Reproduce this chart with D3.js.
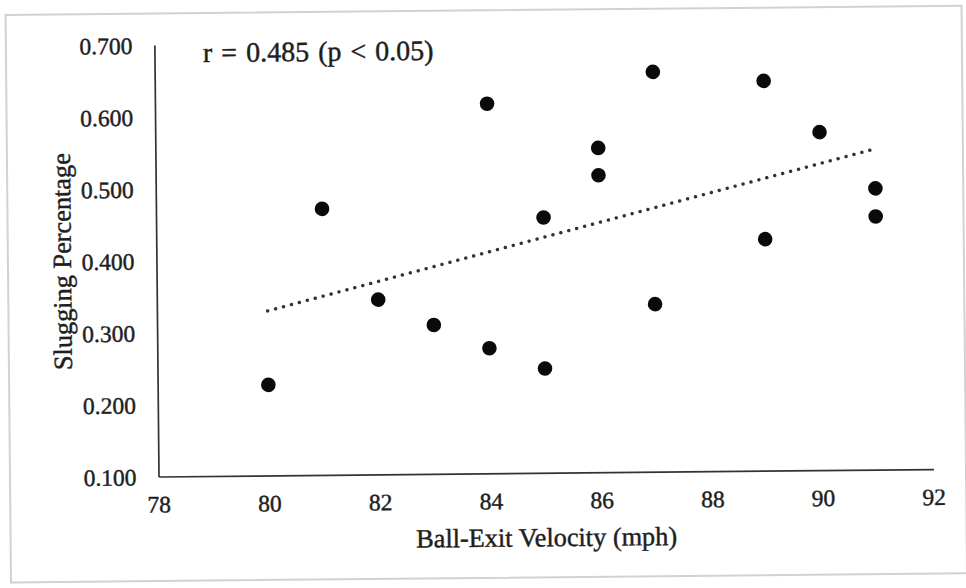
<!DOCTYPE html>
<html>
<head>
<meta charset="utf-8">
<script src="https://cdn.jsdelivr.net/npm/d3@7"></script>
<style>
  body { margin: 0; background: #fff; }
  svg { display: block; }
  text { font-family: "Liberation Serif", "Times New Roman", serif; fill: #1e1e1e; }
</style>
</head>
<body>
<svg id="chart" width="966" height="588"></svg>
<script>
// values
const exitVelocity = [80, 81, 82, 83, 84, 84, 85, 85, 86, 86, 87, 87, 89, 89, 90, 91, 91]
const slugging = [0.226, 0.470, 0.343, 0.307, 0.614, 0.274, 0.455, 0.245, 0.551, 0.513, 0.656, 0.333, 0.642, 0.422, 0.570, 0.491, 0.452]
const xTicks = [78, 80, 82, 84, 86, 88, 90, 92]
const yTicks = [0.1, 0.2, 0.3, 0.4, 0.5, 0.6, 0.7]
const annotation = "r = 0.485 (p < 0.05)"

const svg = d3.select("#chart")

const margin = { left: 158.5, right: 933.5, top: 45, bottom: 476.5 }

const x = d3.scaleLinear().domain([78, 92]).range([margin.left, margin.right])
const y = d3.scaleLinear().domain([0.1, 0.7]).range([margin.bottom, margin.top])

// the scan is a little tilted
const g = svg.append("g")
  .attr("transform", `rotate(-0.55, ${margin.left}, ${margin.bottom})`)

// faint frame of the scanned page
g.append("rect")
  .attr("x", 10).attr("y", 13.5)
  .attr("width", 956).attr("height", 567.5)
  .attr("fill", "none")
  .attr("stroke", "#d2d2d2")
  .attr("stroke-width", 2)

// axes without tick marks
const xAxis = d3.axisBottom(x).tickValues(xTicks).tickSize(0).tickPadding(0).tickFormat(d3.format("d"))
const yAxis = d3.axisLeft(y).tickValues(yTicks).tickSize(0).tickPadding(0).tickFormat(d3.format(".3f"))

const gx = g.append("g").attr("transform", `translate(0,${margin.bottom})`).call(xAxis)
gx.select(".domain").attr("stroke", "#333").attr("stroke-width", 1.7)
gx.selectAll(".tick text")
  .attr("font-size", 23.5)
  .attr("y", 36)
  .attr("dy", 0)
  .attr("font-family", "Liberation Serif")
  .attr("fill", "#222")
  .attr("stroke", "#222")
  .attr("stroke-width", 0.45)

const gy = g.append("g").attr("transform", `translate(${margin.left},0)`).call(yAxis)
gy.select(".domain").attr("stroke", "#333").attr("stroke-width", 1.7)
gy.selectAll(".tick text")
  .attr("font-size", 23.5)
  .attr("x", -22)
  .attr("dy", "0.35em")
  .attr("font-family", "Liberation Serif")
  .attr("fill", "#222")
  .attr("stroke", "#222")
  .attr("stroke-width", 0.45)

// linear trend line from the points
const data = exitVelocity.map((v, i) => ({ v: v, s: slugging[i] }))
const mx = d3.mean(data, d => d.v)
const my = d3.mean(data, d => d.s)
const slope = d3.sum(data, d => (d.v - mx) * (d.s - my)) / d3.sum(data, d => (d.v - mx) ** 2)
const fit = v => my + slope * (v - mx)
const xExt = d3.extent(exitVelocity)

g.append("line")
  .attr("x1", x(xExt[0])).attr("y1", y(fit(xExt[0])))
  .attr("x2", x(xExt[1])).attr("y2", y(fit(xExt[1])))
  .attr("stroke", "#333")
  .attr("stroke-width", 3.4)
  .attr("stroke-linecap", "round")
  .attr("stroke-dasharray", "0.1 8.1")

g.selectAll("circle.pt")
  .data(data)
  .join("circle")
  .attr("class", "pt")
  .attr("cx", d => x(d.v))
  .attr("cy", d => y(d.s))
  .attr("r", 7.3)
  .attr("fill", "#0a0a0a")

g.append("text")
  .attr("x", 207).attr("y", 62.5)
  .attr("font-size", 28)
  .attr("word-spacing", 2)
  .attr("stroke", "#1e1e1e")
  .attr("stroke-width", 0.45)
  .text(annotation)

g.append("text")
  .attr("x", (margin.left + margin.right) / 2)
  .attr("y", 550)
  .attr("text-anchor", "middle")
  .attr("font-size", 26.3)
  .attr("stroke", "#1e1e1e")
  .attr("stroke-width", 0.45)
  .text("Ball-Exit Velocity (mph)")

g.append("text")
  .attr("transform", `translate(73,${(margin.top + margin.bottom) / 2}) rotate(-90)`)
  .attr("text-anchor", "middle")
  .attr("font-size", 26.3)
  .attr("stroke", "#1e1e1e")
  .attr("stroke-width", 0.45)
  .text("Slugging Percentage")
</script>
</body>
</html>
